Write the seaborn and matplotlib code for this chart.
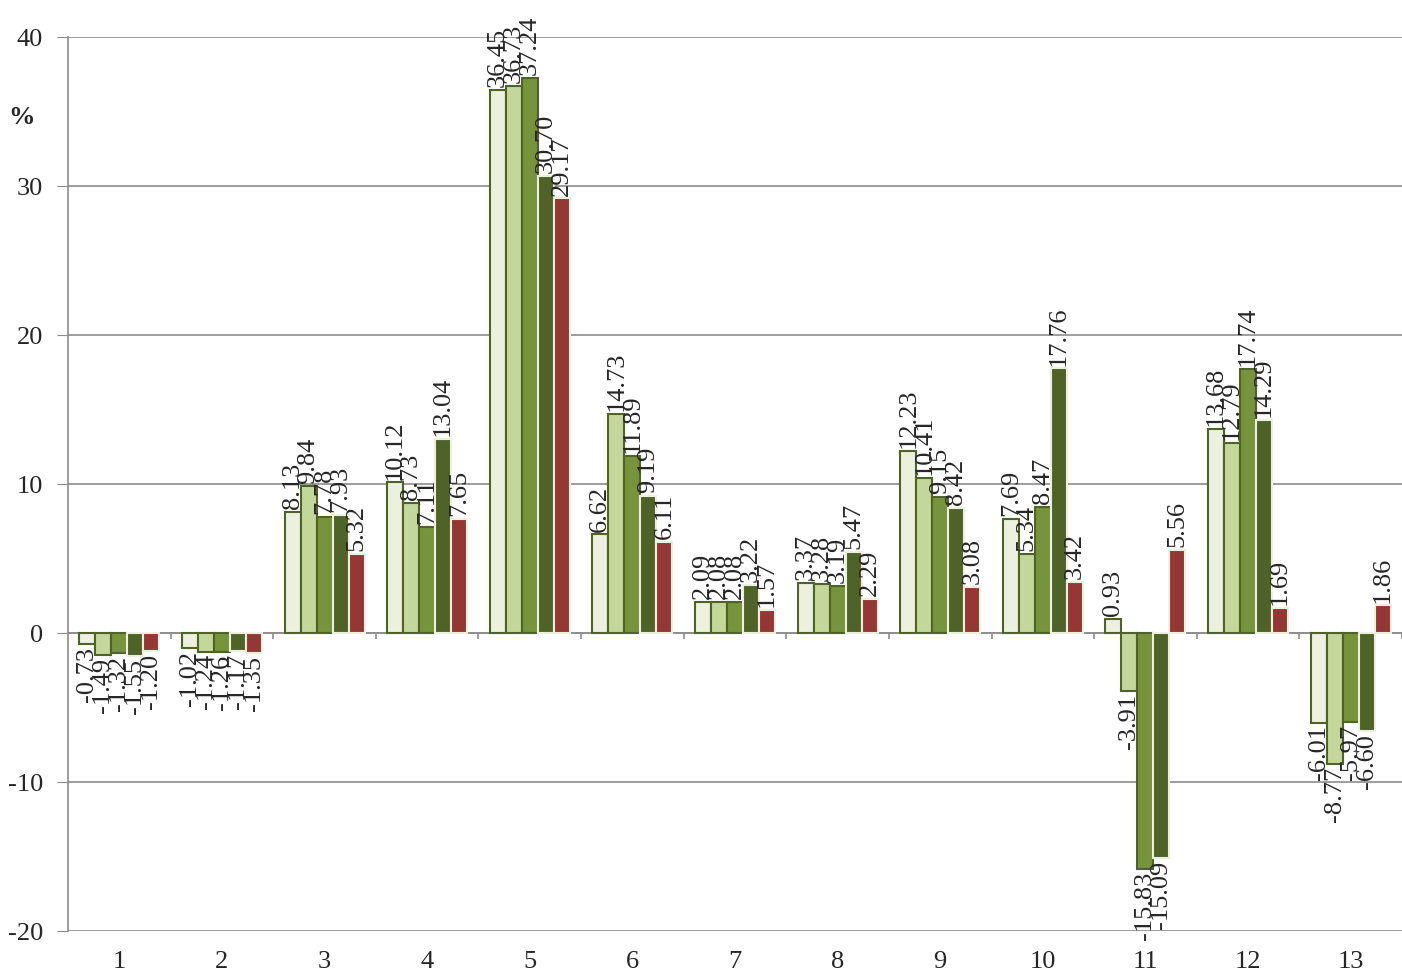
import numpy as np
import pandas as pd
import matplotlib
matplotlib.use("Agg")
import matplotlib.pyplot as plt
import seaborn as sns

# --- DATA ---
groups = [str(i) for i in range(1, 14)]
series_names = ["s1", "s2", "s3", "s4", "s5"]
s1 = [-0.73, -1.02, 8.13, 10.12, 36.45, 6.62, 2.09, 3.37, 12.23, 7.69, 0.93, 13.68, -6.01]
s2 = [-1.49, -1.24, 9.84, 8.73, 36.73, 14.73, 2.08, 3.28, 10.41, 5.34, -3.91, 12.79, -8.77]
s3 = [-1.32, -1.26, 7.78, 7.11, 37.24, 11.89, 2.08, 3.19, 9.15, 8.47, -15.83, 17.74, -5.97]
s4 = [-1.55, -1.17, 7.93, 13.04, 30.70, 9.19, 3.22, 5.47, 8.42, 17.76, -15.09, 14.29, -6.60]
s5 = [-1.20, -1.35, 5.32, 7.65, 29.17, 6.11, 1.57, 2.29, 3.08, 3.42, 5.56, 1.69, 1.86]

colors = ["#EBF1DE", "#C4D79B", "#77933C", "#4F6228", "#953735"]
edges = ["#4F6228", "#4F6228", "#4F6228", "#EBF1DE", "#EBF1DE"]

rows = []
for name, vals in zip(series_names, [s1, s2, s3, s4, s5]):
    for g, v in zip(groups, vals):
        rows.append({"group": g, "series": name, "value": v})
df = pd.DataFrame(rows)

sns.set_style("white")
plt.rcParams["font.family"] = ["Liberation Serif", "DejaVu Serif"]
plt.rcParams["axes.unicode_minus"] = False

fig = plt.figure(figsize=(14.02, 9.76), dpi=100)
ax = fig.add_axes([0.0485, 0.046, 0.9515, 0.916])

sns.barplot(data=df, x="group", y="value", hue="series", order=groups,
            hue_order=series_names, palette=colors, width=0.78,
            saturation=1, legend=False, ax=ax)

for cont, ec in zip(ax.containers, edges):
    for bar in cont:
        bar.set_edgecolor(ec)
        bar.set_linewidth(1.5)
    ax.bar_label(cont, fmt="%.2f", rotation=90, padding=2, fontsize=19)

ax.set_ylim(-20, 40)
ax.set_xlim(-0.5, 12.5)
ax.set_yticks([-20, -10, 0, 10, 20, 30, 40])
ax.yaxis.grid(True, color="#8C8C8C", linewidth=1.2)
ax.set_axisbelow(True)
ax.axhline(0, color="#8C8C8C", linewidth=1.2, zorder=0.5)
ax.vlines(np.arange(0.5, 13), -0.4, 0, color="#8C8C8C", linewidth=1.2, zorder=0.5)

for s in ["top", "right", "bottom"]:
    ax.spines[s].set_visible(False)
ax.spines["left"].set_color("#8C8C8C")
ax.spines["left"].set_linewidth(1.2)

ax.tick_params(axis="y", direction="out", length=8, color="#8C8C8C", labelsize=19, left=True, pad=10)
ax.tick_params(axis="x", length=0, labelsize=19, pad=14)
ax.set_xlabel("")
ax.set_ylabel("")
ax.text(-0.035, 0.91, "%", transform=ax.transAxes, fontsize=19, fontweight="bold",
        ha="center", va="center")

plt.savefig("out.png", dpi=100)
